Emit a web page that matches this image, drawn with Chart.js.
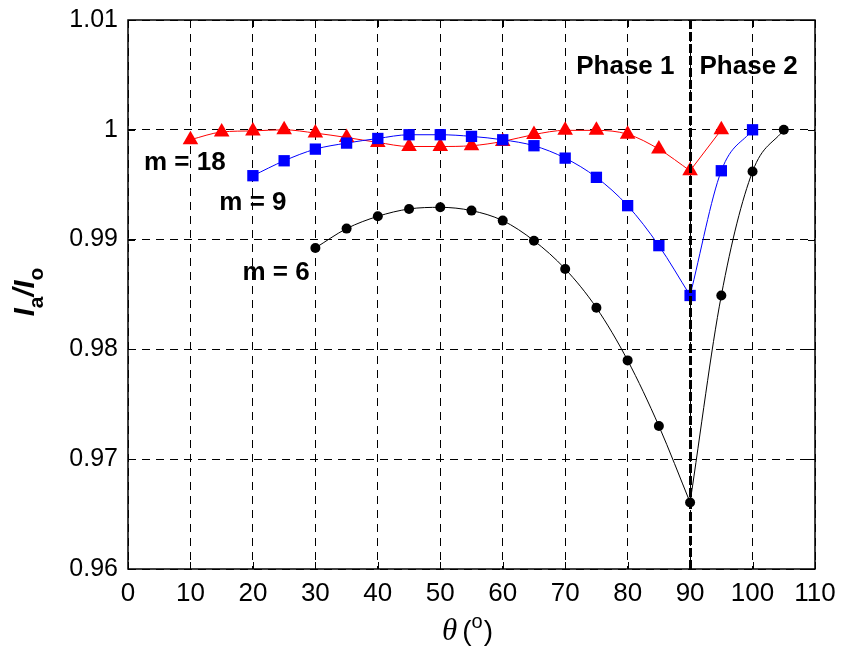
<!DOCTYPE html>
<html>
<head>
<meta charset="utf-8">
<script src="https://cdn.jsdelivr.net/npm/chart.js@4.4.1/dist/chart.umd.min.js"></script>
<style>
  html, body { margin: 0; padding: 0; background: #fff; }
  #wrap { width: 843px; height: 647px; }
</style>
</head>
<body>
<div id="wrap"><canvas id="c" width="843" height="647"></canvas></div>
<script>
// Normalised intensity I_a/I_o against angle theta for three m values
const theta18 = [10, 15, 20, 25, 30, 35, 40, 45, 50, 55, 60, 65, 70, 75, 80, 85, 90, 95];
const ratio18 = [0.9991, 0.9998, 0.9999, 1.0, 0.9997, 0.9993, 0.99885, 0.99848, 0.99848, 0.99855,
                 0.99894, 0.99957, 0.99995, 0.99995, 0.9996, 0.99824, 0.99627, 1.0];

const theta9 = [20, 25, 30, 35, 40, 45, 50, 55, 60, 65, 70, 75, 80, 85, 90, 95, 100];
const ratio9 = [0.99582, 0.99718, 0.99824, 0.99879, 0.99921, 0.99955, 0.99955, 0.9994, 0.99909,
                0.99855, 0.99742, 0.99567, 0.99309, 0.98945, 0.98491, 0.99627, 1.0];

const theta6 = [30, 35, 40, 45, 50, 55, 60, 65, 70, 75, 80, 85, 90, 95, 100, 105];
const ratio6 = [0.98924, 0.991, 0.99212, 0.99279, 0.99294, 0.99264, 0.99173, 0.9899, 0.98733,
                0.98379, 0.979, 0.97303, 0.96606, 0.98491, 0.9962, 1.0];

const xTicks = [0, 10, 20, 30, 40, 50, 60, 70, 80, 90, 100, 110];
const yTicks = [0.96, 0.97, 0.98, 0.99, 1.0, 1.01];

const phaseBoundary = 90;
const seriesLabels = [
  { text: 'm = 18', x: 9.1, y: 0.9970 },
  { text: 'm = 9',  x: 20.0, y: 0.99336 },
  { text: 'm = 6',  x: 23.7, y: 0.9870 }
];

const FONT = "'Liberation Sans', Arial, sans-serif";

function pts(xs, ys) { return xs.map((x, i) => ({ x: x, y: ys[i] })); }
// the curve is interpolated separately on each side of the phase boundary
function phase1(xs, ys) { return pts(xs, ys).filter(p => p.x <= phaseBoundary); }
function phase2(xs, ys) { return pts(xs, ys).filter(p => p.x >= phaseBoundary); }

// Frame, inward ticks, phase divider and free text
const decorations = {
  id: 'decorations',
  afterDatasetsDraw(chart) {
    const { ctx, chartArea: a, scales: { x, y } } = chart;
    ctx.save();

    // phase divider
    const px = Math.round(x.getPixelForValue(phaseBoundary)) + 0.5;
    ctx.strokeStyle = '#000';
    ctx.lineWidth = 3;
    ctx.setLineDash([9, 3]);
    ctx.beginPath();
    ctx.moveTo(px, a.top);
    ctx.lineTo(px, a.bottom);
    ctx.stroke();
    ctx.setLineDash([]);

    // box
    ctx.lineWidth = 1.5;
    ctx.strokeRect(a.left, a.top, a.right - a.left, a.bottom - a.top);

    // inward tick marks on all sides
    ctx.lineWidth = 1;
    const tl = 7;
    ctx.beginPath();
    xTicks.forEach(v => {
      const p = Math.round(x.getPixelForValue(v)) + 0.5;
      ctx.moveTo(p, a.bottom); ctx.lineTo(p, a.bottom - tl);
      ctx.moveTo(p, a.top); ctx.lineTo(p, a.top + tl);
    });
    yTicks.forEach(v => {
      const p = Math.round(y.getPixelForValue(v)) + 0.5;
      ctx.moveTo(a.left, p); ctx.lineTo(a.left + tl, p);
      ctx.moveTo(a.right, p); ctx.lineTo(a.right - tl, p);
    });
    ctx.stroke();

    // phase labels
    ctx.fillStyle = '#000';
    ctx.font = 'bold 26px ' + FONT;
    ctx.textBaseline = 'middle';
    const ly = y.getPixelForValue(1.00573);
    ctx.textAlign = 'right';
    ctx.fillText('Phase 1', px - 16, ly);
    ctx.textAlign = 'left';
    ctx.fillText('Phase 2', px + 9, ly);

    // series labels
    ctx.textAlign = 'center';
    seriesLabels.forEach(l => {
      ctx.fillText(l.text, x.getPixelForValue(l.x), y.getPixelForValue(l.y));
    });

    // x axis title: theta (deg)
    ctx.textAlign = 'left';
    ctx.textBaseline = 'alphabetic';
    let cx = 442;
    const by = 640;
    ctx.font = "italic 31px 'Liberation Serif', 'DejaVu Serif', serif";
    ctx.fillText('θ', cx, by);
    cx += ctx.measureText('θ').width + 5;
    ctx.font = '28px ' + FONT;
    ctx.fillText('(', cx, by);
    cx += ctx.measureText('(').width;
    ctx.font = '20px ' + FONT;
    ctx.fillText('o', cx, by - 12);
    cx += ctx.measureText('o').width + 1;
    ctx.font = '28px ' + FONT;
    ctx.fillText(')', cx, by);

    // y axis title: I_a / I_o
    ctx.translate(34, 292);
    ctx.rotate(-Math.PI / 2);
    const parts = [
      { t: 'I',  f: 'bold italic 29px ' + FONT, dy: 0 },
      { t: 'a',  f: 'bold 21px ' + FONT, dy: 9 },
      { t: '/I', f: 'bold italic 29px ' + FONT, dy: 0 },
      { t: 'o',  f: 'bold 21px ' + FONT, dy: 9 }
    ];
    let w = 0;
    parts.forEach(p => { ctx.font = p.f; w += ctx.measureText(p.t).width; });
    let tx = -w / 2;
    parts.forEach(p => {
      ctx.font = p.f;
      ctx.fillText(p.t, tx, p.dy);
      tx += ctx.measureText(p.t).width;
    });

    ctx.restore();
  }
};

const tickFmt = v => String(Number(v.toFixed(2)));

function lineSet(label, data, color, order) {
  return {
    label: label, data: data, order: order,
    borderColor: color, backgroundColor: color, borderWidth: 1,
    pointRadius: 0, pointHoverRadius: 0,
    cubicInterpolationMode: 'monotone'
  };
}
function markerSet(label, data, color, style, radius, order) {
  return {
    label: label, data: data, order: order, showLine: false,
    borderColor: color, backgroundColor: color,
    pointStyle: style, pointRadius: radius, pointHoverRadius: radius, pointBorderWidth: 0
  };
}

new Chart(document.getElementById('c'), {
  type: 'line',
  data: {
    datasets: [
      lineSet('m = 18', phase1(theta18, ratio18), '#ff0000', 9),
      lineSet('m = 18', phase2(theta18, ratio18), '#ff0000', 9),
      lineSet('m = 9', phase1(theta9, ratio9), '#0000ff', 8),
      lineSet('m = 9', phase2(theta9, ratio9), '#0000ff', 8),
      lineSet('m = 6', phase1(theta6, ratio6), '#000000', 7),
      lineSet('m = 6', phase2(theta6, ratio6), '#000000', 7),
      markerSet('m = 18', pts(theta18, ratio18), '#ff0000', 'triangle', 9, 3),
      markerSet('m = 9', pts(theta9, ratio9), '#0000ff', 'rect', 8, 2),
      markerSet('m = 6', pts(theta6, ratio6), '#000000', 'circle', 5, 1)
    ]
  },
  options: {
    responsive: false,
    animation: false,
    events: [],
    layout: { padding: { left: 0, top: 20, right: 28, bottom: 0 } },
    plugins: { legend: { display: false }, tooltip: { enabled: false } },
    scales: {
      x: {
        type: 'linear', min: 0, max: 110,
        afterBuildTicks: s => { s.ticks = xTicks.map(v => ({ value: v })); },
        afterFit: s => { s.height = 78; s.paddingLeft = 0; s.paddingRight = 0; },
        ticks: { font: { family: FONT, size: 26 }, color: '#000', padding: 9, maxRotation: 0, autoSkip: false },
        grid: { color: '#000', lineWidth: 1, drawTicks: false },
        border: { display: false, dash: [8, 6] }
      },
      y: {
        type: 'linear', min: 0.96, max: 1.01,
        afterBuildTicks: s => { s.ticks = yTicks.map(v => ({ value: v })); },
        afterFit: s => { s.width = 128; s.paddingTop = 0; s.paddingBottom = 0; },
        ticks: { font: { family: FONT, size: 25 }, color: '#000', padding: 10, callback: tickFmt },
        grid: { color: '#000', lineWidth: 1, drawTicks: false },
        border: { display: false, dash: [8, 6] }
      }
    }
  },
  plugins: [decorations]
});
</script>
</body>
</html>
